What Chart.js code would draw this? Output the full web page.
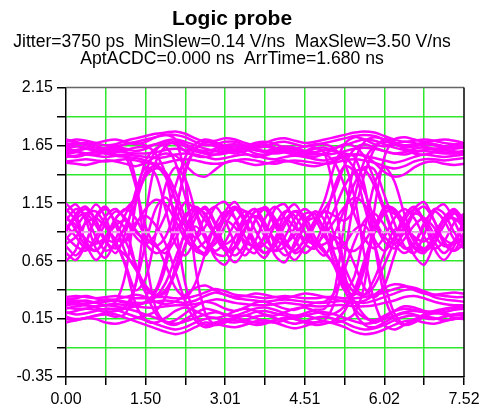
<!DOCTYPE html>
<html>
<head>
<meta charset="utf-8">
<script src="https://cdn.jsdelivr.net/npm/chart.js@4.4.1/dist/chart.umd.min.js"></script>
<style>
html,body{margin:0;padding:0;background:#fff;}
canvas{display:block;}
</style>
</head>
<body>
<canvas id="c" width="481" height="411"></canvas>
<script>
// ---- tick positions and labels ----
const xTickValues = [0, 0.752, 1.504, 2.256, 3.008, 3.760, 4.512, 5.264, 6.016, 6.768, 7.52];
const xTickLabels = ['0.00', '', '1.50', '', '3.01', '', '4.51', '', '6.02', '', '7.52'];
const yTickValues = [-0.35, -0.10, 0.15, 0.40, 0.65, 0.90, 1.15, 1.40, 1.65, 1.90, 2.15];
const yTickLabels = ['-0.35', '', '0.15', '', '0.65', '', '1.15', '', '1.65', '', '2.15'];
const thresholdLevel = 0.90;

// ---- sample times (ns) ----
const sampleTimes = [0.000,0.188,0.376,0.564,0.752,0.940,1.128,1.316,1.504,1.692,
  1.880,2.068,2.256,2.444,2.632,2.820,3.008,3.196,3.384,3.572,
  3.760,3.948,4.136,4.324,4.512,4.700,4.888,5.076,5.264,5.452,
  5.640,5.828,6.016,6.204,6.392,6.580,6.768,6.956,7.144,7.332,7.520];

// ---- traces staying high ----
const highTraces = [
  [1.68,1.70,1.69,1.67,1.65,1.66,1.69,1.71,1.73,1.75, 1.76,1.77,1.75,1.71,1.68,1.69,1.71,1.70,1.67,1.65, 1.67,1.70,1.71,1.69,1.67,1.68,1.70,1.72,1.74,1.76, 1.77,1.76,1.73,1.70,1.68,1.69,1.70,1.69,1.67,1.66, 1.67],
  [1.64,1.66,1.67,1.65,1.62,1.63,1.66,1.68,1.70,1.72, 1.74,1.74,1.72,1.68,1.65,1.66,1.68,1.68,1.65,1.63, 1.64,1.67,1.68,1.66,1.64,1.65,1.67,1.69,1.71,1.73, 1.74,1.73,1.70,1.67,1.65,1.66,1.67,1.66,1.64,1.63, 1.64],
  [1.60,1.61,1.62,1.60,1.58,1.59,1.61,1.63,1.64,1.66, 1.69,1.70,1.68,1.65,1.62,1.60,1.59,1.61,1.63,1.62, 1.60,1.61,1.63,1.62,1.60,1.59,1.61,1.63,1.65,1.68, 1.70,1.69,1.66,1.63,1.61,1.60,1.61,1.62,1.61,1.59, 1.60],
  [1.55,1.56,1.57,1.56,1.55,1.56,1.57,1.56,1.55,1.54, 1.55,1.57,1.58,1.57,1.55,1.53,1.54,1.56,1.57,1.56, 1.54,1.53,1.55,1.56,1.55,1.53,1.52,1.54,1.56,1.57, 1.56,1.54,1.52,1.50,1.52,1.55,1.57,1.56,1.55,1.56, 1.57],
  [1.51,1.52,1.53,1.52,1.51,1.52,1.53,1.52,1.50,1.49, 1.50,1.52,1.53,1.52,1.50,1.49,1.50,1.52,1.53,1.52, 1.50,1.49,1.51,1.52,1.51,1.50,1.49,1.50,1.52,1.53, 1.52,1.50,1.47,1.45,1.47,1.51,1.53,1.53,1.52,1.53, 1.54],
  [1.57,1.59,1.58,1.57,1.59,1.60,1.59,1.58,1.58,1.59, 1.61,1.62,1.61,1.60,1.58,1.57,1.58,1.60,1.62,1.61, 1.59,1.58,1.59,1.61,1.60,1.58,1.57,1.58,1.60,1.62, 1.63,1.62,1.60,1.58,1.57,1.59,1.60,1.59,1.58,1.58, 1.59],
  [1.50,1.49,1.48,1.50,1.52,1.51,1.49,1.47,1.50,1.55, 1.58,1.56,1.48,1.40,1.38,1.44,1.50,1.52,1.50,1.48, 1.49,1.51,1.52,1.50,1.48,1.47,1.49,1.52,1.55,1.57, 1.56,1.50,1.42,1.38,1.40,1.46,1.50,1.51,1.49,1.48, 1.49]
];

// ---- traces staying low ----
const lowTraces = [
  [0.17,0.15,0.16,0.18,0.20,0.19,0.16,0.13,0.10,0.07, 0.04,0.02,0.04,0.08,0.12,0.11,0.09,0.08,0.10,0.13, 0.14,0.12,0.09,0.07,0.09,0.12,0.13,0.11,0.08,0.04, 0.02,0.03,0.06,0.10,0.13,0.14,0.12,0.11,0.13,0.15, 0.16],
  [0.21,0.19,0.20,0.22,0.24,0.23,0.20,0.17,0.14,0.11, 0.08,0.06,0.08,0.12,0.15,0.16,0.13,0.12,0.14,0.17, 0.18,0.16,0.13,0.11,0.13,0.16,0.17,0.15,0.12,0.08, 0.06,0.07,0.10,0.14,0.17,0.18,0.17,0.15,0.17,0.19, 0.20],
  [0.25,0.24,0.24,0.26,0.27,0.26,0.24,0.22,0.19,0.16, 0.13,0.11,0.13,0.16,0.19,0.21,0.19,0.17,0.18,0.21, 0.22,0.20,0.18,0.16,0.18,0.20,0.21,0.19,0.16,0.13, 0.11,0.12,0.15,0.18,0.21,0.22,0.21,0.20,0.21,0.23, 0.24],
  [0.30,0.31,0.30,0.29,0.30,0.31,0.30,0.29,0.29,0.30, 0.31,0.30,0.29,0.31,0.35,0.38,0.36,0.33,0.32,0.31, 0.30,0.31,0.32,0.31,0.30,0.29,0.29,0.30,0.31,0.30, 0.29,0.31,0.34,0.37,0.40,0.41,0.38,0.34,0.32,0.31, 0.30],
  [0.34,0.35,0.34,0.33,0.34,0.35,0.34,0.33,0.33,0.34, 0.34,0.33,0.33,0.35,0.38,0.41,0.39,0.36,0.35,0.34, 0.33,0.34,0.35,0.34,0.33,0.33,0.34,0.34,0.33,0.33, 0.34,0.36,0.38,0.41,0.43,0.42,0.39,0.36,0.35,0.34, 0.34],
  [0.27,0.28,0.27,0.26,0.27,0.28,0.27,0.26,0.25,0.25, 0.26,0.27,0.27,0.28,0.30,0.32,0.31,0.29,0.28,0.27, 0.27,0.28,0.29,0.28,0.27,0.26,0.26,0.27,0.27,0.26, 0.26,0.27,0.29,0.31,0.34,0.35,0.33,0.30,0.28,0.27, 0.27],
  [0.32,0.33,0.35,0.33,0.31,0.32,0.34,0.36,0.34,0.30, 0.28,0.30,0.36,0.42,0.44,0.40,0.36,0.34,0.35,0.37, 0.36,0.34,0.33,0.35,0.37,0.36,0.34,0.32,0.30,0.29, 0.31,0.36,0.42,0.45,0.44,0.40,0.37,0.36,0.37,0.38, 0.37]
];

// ---- traces ringing around the middle level ----
const midTraces = [
  [1.15,1.05,0.80,0.66,0.78,1.02,1.10,1.20,1.38,1.45, 1.42,1.25,1.02,0.85,0.95,1.12,1.16,1.02,0.78,0.72, 0.88,1.10,1.14,0.98,0.80,0.76,0.92,1.10,1.30,1.42, 1.44,1.30,1.08,0.88,0.90,1.10,1.16,1.00,0.80,0.74, 0.90],
  [0.65,0.75,1.00,1.14,1.02,0.78,0.70,0.60,0.42,0.35, 0.38,0.55,0.78,0.95,0.85,0.68,0.62,0.78,1.02,1.10, 0.92,0.70,0.64,0.82,1.00,1.06,0.90,0.70,0.50,0.38, 0.36,0.50,0.72,0.92,0.90,0.70,0.62,0.80,1.02,1.08, 0.90],
  [1.02,0.96,0.84,0.80,0.86,0.96,1.00,0.92,0.80,0.72, 0.76,0.90,1.05,1.10,1.00,0.88,0.80,0.86,0.98,1.04, 0.96,0.84,0.80,0.88,0.98,1.02,0.94,0.84,0.76,0.74, 0.82,0.96,1.08,1.06,0.96,0.86,0.82,0.90,1.00,1.02, 0.94],
  [0.80,0.86,0.98,1.02,0.94,0.84,0.82,0.96,1.10,1.18, 1.14,1.00,0.84,0.76,0.82,0.94,1.00,0.94,0.82,0.78, 0.86,0.98,1.02,0.94,0.84,0.80,0.88,1.00,1.12,1.20, 1.14,0.98,0.82,0.76,0.84,0.96,1.02,0.94,0.84,0.80, 0.86],
  [1.08,1.14,1.00,0.76,0.68,0.84,1.06,1.20,1.40,1.48, 1.40,1.18,0.95,0.78,0.70,0.86,1.08,1.16,1.00,0.76, 0.68,0.84,1.06,1.14,1.00,0.78,0.70,0.88,1.10,1.32, 1.46,1.44,1.22,0.98,0.78,0.72,0.88,1.08,1.14,1.00, 0.80],
  [0.72,0.66,0.80,1.04,1.12,0.96,0.72,0.58,0.44,0.36, 0.40,0.56,0.80,1.02,1.12,0.98,0.74,0.64,0.76,1.00, 1.12,1.00,0.76,0.66,0.78,1.00,1.08,0.86,0.60,0.42, 0.36,0.44,0.62,0.82,1.00,1.10,0.98,0.76,0.66,0.78, 0.98],
  [0.90,1.06,1.12,1.00,0.82,0.72,0.90,1.25,1.46,1.40, 1.10,0.80,0.70,0.84,1.04,1.12,1.00,0.80,0.70,0.82, 1.02,1.12,1.02,0.84,0.72,0.80,1.00,1.30,1.47,1.42, 1.12,0.84,0.74,0.86,1.04,1.12,1.00,0.82,0.72,0.82, 1.00],
  [0.96,0.86,0.76,0.82,0.98,1.08,1.02,0.90,0.84,0.80, 0.62,0.42,0.34,0.46,0.72,0.96,1.08,1.02,0.86,0.76, 0.80,0.96,1.08,1.04,0.90,0.78,0.80,0.86,0.80,0.62, 0.42,0.34,0.44,0.70,0.94,1.06,1.02,0.88,0.78,0.82, 0.96],
  [0.84,0.94,1.06,1.08,0.96,0.82,0.62,0.40,0.50,0.88, 1.30,1.46,1.36,1.08,0.84,0.74,0.82,0.98,1.08,1.02, 0.86,0.74,0.78,0.94,1.06,1.06,0.90,0.62,0.40,0.52, 0.92,1.32,1.46,1.34,1.06,0.84,0.76,0.86,1.00,1.08, 1.02],
  [1.10,1.00,0.82,0.74,0.84,1.00,0.92,0.62,0.38,0.40, 0.66,0.98,1.16,1.08,0.88,0.72,0.70,0.86,1.04,1.10, 0.98,0.80,0.70,0.78,0.96,1.08,1.00,0.70,0.42,0.36, 0.58,0.90,1.12,1.10,0.92,0.76,0.72,0.86,1.02,1.10, 1.00]
];

// ---- traces switching between levels ----
const switchTraces = [
  [1.62,1.64,1.63,1.61,1.60,1.62,1.60,1.35,0.70,0.25, 0.12,0.10,0.15,0.20,0.24,0.22,0.19,0.18,0.21,0.24, 0.25,0.23,0.20,0.18,0.20,0.23,0.24,0.40,1.00,1.50, 1.68,1.72,1.70,1.66,1.63,1.64,1.66,1.65,1.63,1.62, 1.63],
  [0.20,0.22,0.24,0.23,0.21,0.22,0.24,0.26,0.30,0.38, 0.60,1.05,1.45,1.62,1.66,1.64,1.60,1.58,1.60,1.63, 1.64,1.62,1.59,1.57,1.59,1.62,1.63,1.60,1.58,1.55, 1.30,0.80,0.35,0.15,0.10,0.14,0.19,0.21,0.20,0.18, 0.19],
  [1.00,1.10,1.04,0.86,0.74,0.80,0.96,1.15,1.42,1.60, 1.68,1.66,1.60,1.56,1.55,1.57,1.60,1.61,1.58,1.55, 1.56,1.59,1.61,1.59,1.56,1.55,1.57,1.50,1.30,1.05, 0.85,0.76,0.86,1.02,1.10,1.02,0.86,0.76,0.82,0.98, 1.06],
  [0.78,0.70,0.82,1.02,1.10,0.98,0.82,0.62,0.38,0.20, 0.12,0.14,0.20,0.26,0.30,0.28,0.24,0.22,0.25,0.29, 0.30,0.27,0.24,0.23,0.26,0.29,0.30,0.38,0.58,0.82, 1.00,1.06,0.96,0.80,0.72,0.80,0.98,1.08,1.00,0.84, 0.76],
  [1.56,1.55,1.57,1.59,1.58,1.56,1.55,1.54,1.52,1.48, 1.38,1.18,0.95,0.78,0.72,0.84,1.02,1.10,0.98,0.80, 0.72,0.82,1.00,1.08,0.98,0.82,0.72,0.62,0.46,0.30, 0.18,0.12,0.16,0.22,0.26,0.25,0.22,0.21,0.23,0.25, 0.26],
  [0.30,0.29,0.28,0.30,0.32,0.31,0.29,0.28,0.29,0.34, 0.46,0.68,0.90,1.06,1.10,0.96,0.78,0.70,0.80,1.00, 1.10,1.02,0.84,0.72,0.78,0.96,1.08,1.04,1.00,1.10, 1.40,1.62,1.70,1.68,1.62,1.58,1.57,1.59,1.61,1.60, 1.58],
  [0.86,0.78,0.74,0.86,1.04,1.10,1.00,0.86,0.80,0.88, 1.05,1.30,1.55,1.66,1.70,1.68,1.64,1.62,1.64,1.67, 1.68,1.66,1.63,1.62,1.64,1.66,1.66,1.62,1.50,1.20, 0.70,0.30,0.10,0.06,0.10,0.15,0.17,0.16,0.14,0.15, 0.17],
  [0.15,0.14,0.16,0.18,0.19,0.17,0.20,0.45,1.05,1.50, 1.64,1.68,1.66,1.62,1.60,1.62,1.65,1.66,1.64,1.61, 1.60,1.62,1.64,1.63,1.60,1.59,1.61,1.60,1.55,1.45, 1.25,1.02,0.86,0.80,0.90,1.06,1.12,1.00,0.82,0.74, 0.80],
  [1.66,1.67,1.65,1.63,1.62,1.64,1.66,1.67,1.65,1.58, 1.40,0.95,0.45,0.18,0.10,0.12,0.15,0.14,0.12,0.10, 0.11,0.14,0.16,0.15,0.12,0.10,0.11,0.14,0.22,0.40, 0.66,0.90,1.06,1.10,0.98,0.82,0.74,0.80,0.96,1.06, 1.00],
  [0.94,1.02,1.06,0.96,0.82,0.76,0.84,0.98,1.04,0.96, 0.80,0.56,0.30,0.14,0.08,0.10,0.14,0.16,0.14,0.12, 0.12,0.14,0.16,0.15,0.13,0.12,0.14,0.30,0.70,1.20, 1.52,1.64,1.68,1.66,1.64,1.65,1.67,1.66,1.64,1.63, 1.64],
  [0.24,0.26,0.27,0.25,0.23,0.24,0.26,0.45,0.80,1.10, 1.20,1.08,0.88,0.74,0.72,0.86,1.04,1.12,1.00,0.82, 0.72,0.78,0.96,1.08,1.04,0.86,0.74,0.60,0.40,0.24, 0.16,0.14,0.18,0.22,0.24,0.23,0.21,0.22,0.24,0.25, 0.24],
  [1.58,1.60,1.62,1.61,1.58,1.57,1.55,1.30,0.95,0.78, 0.72,0.84,1.02,1.12,1.04,0.86,0.74,0.78,0.94,1.08, 1.10,0.96,0.80,0.74,0.84,1.00,1.10,1.25,1.48,1.62, 1.66,1.63,1.60,1.58,1.59,1.62,1.63,1.61,1.59,1.58, 1.60],
  [1.70,1.68,1.66,1.67,1.69,1.70,1.68,1.66,1.68,1.72, 1.74,1.70,1.35,0.60,0.20,0.10,0.12,0.16,0.18,0.16, 0.13,0.12,0.14,0.17,0.18,0.16,0.13,0.12,0.14,0.20, 0.45,1.10,1.55,1.70,1.72,1.70,1.68,1.69,1.70,1.69, 1.67],
  [0.28,0.30,0.31,0.29,0.27,0.30,0.55,1.15,1.52,1.62, 1.66,1.67,1.64,1.60,1.58,1.60,1.63,1.64,1.62,1.58, 1.57,1.60,1.62,1.61,1.58,1.57,1.58,1.62,1.66,1.64, 1.55,1.35,1.10,0.88,0.76,0.80,0.96,1.10,1.06,0.90, 0.78],
  [0.92,1.04,1.10,1.00,0.84,0.80,0.60,0.28,0.14,0.12, 0.16,0.22,0.25,0.22,0.18,0.16,0.18,0.22,0.24,0.22, 0.19,0.18,0.21,0.24,0.25,0.22,0.19,0.20,0.26,0.38, 0.62,0.92,1.10,1.08,0.92,0.78,0.74,0.86,1.02,1.08, 0.96],
  [1.04,0.92,0.78,0.74,0.86,1.02,1.10,1.02,0.86,0.78, 0.86,1.10,1.42,1.62,1.68,1.66,1.62,1.60,1.62,1.65, 1.66,1.63,1.60,1.58,1.60,1.63,1.58,1.20,0.55,0.22, 0.10,0.08,0.12,0.17,0.20,0.19,0.16,0.15,0.17,0.19, 0.20],
  [0.12,0.14,0.16,0.15,0.12,0.11,0.13,0.16,0.18,0.22, 0.34,0.60,0.92,1.10,1.06,0.88,0.74,0.76,0.92,1.08, 1.10,0.96,0.80,0.74,0.84,1.00,1.18,1.48,1.66,1.72, 1.70,1.66,1.64,1.66,1.68,1.67,1.64,1.62,1.63,1.65, 1.66],
  [1.62,1.60,1.58,1.60,1.63,1.64,1.62,1.60,1.62,1.66, 1.64,1.50,1.20,0.90,0.76,0.80,0.96,1.10,1.08,0.92, 0.78,0.74,0.86,1.02,1.10,1.02,0.86,0.76,0.80,0.92, 0.96,0.80,0.46,0.20,0.10,0.12,0.17,0.20,0.19,0.16, 0.15]
];

const TRACE_COLOR = '#ff00ff';
const GRID_COLOR = '#2ee82e';
const FONT = '"Liberation Sans", Arial, sans-serif';

const allTraces = [].concat(highTraces, lowTraces, midTraces, switchTraces);
const datasets = [{
  label: 'threshold',
  data: [{x: xTickValues[0], y: thresholdLevel}, {x: xTickValues[xTickValues.length - 1], y: thresholdLevel}],
  showLine: true, borderColor: '#f7a6f7', borderWidth: 2, borderDash: [9, 6],
  pointRadius: 0, tension: 0
}];
allTraces.forEach((tr, k) => {
  datasets.push({
    label: 'trace ' + (k + 1),
    data: sampleTimes.map((t, i) => ({x: t, y: tr[i]})),
    showLine: true, borderColor: TRACE_COLOR, borderWidth: 2.5,
    pointRadius: 0, tension: 0.3
  });
});

const frameBorders = {
  id: 'frameBorders',
  afterDatasetsDraw(chart) {
    const {ctx, chartArea: a} = chart;
    ctx.save();
    ctx.lineWidth = 1.5;
    ctx.strokeStyle = '#666';
    ctx.beginPath(); ctx.moveTo(a.left, a.top); ctx.lineTo(a.right, a.top); ctx.stroke();
    ctx.strokeStyle = '#000';
    ctx.beginPath(); ctx.moveTo(a.right, a.top); ctx.lineTo(a.right, a.bottom); ctx.stroke();
    ctx.restore();
  }
};

function gridColor(ctx) {
  const n = ctx.scale.ticks.length;
  return (ctx.index === 0 || ctx.index === n - 1) ? 'rgba(0,0,0,0)' : GRID_COLOR;
}

new Chart(document.getElementById('c'), {
  type: 'scatter',
  data: {datasets},
  plugins: [frameBorders],
  options: {
    responsive: false,
    animation: false,
    devicePixelRatio: 1,
    layout: {padding: {top: 0, left: 0, right: 17, bottom: 0}},
    plugins: {
      legend: {display: false},
      tooltip: {enabled: false},
      title: {
        display: true, text: 'Logic probe', color: '#000',
        font: {family: FONT, size: 21, weight: 'bold', lineHeight: 1.2},
        padding: {top: 7, bottom: 0}
      },
      subtitle: {
        display: true,
        text: ['Jitter=3750 ps  MinSlew=0.14 V/ns  MaxSlew=3.50 V/ns', 'AptACDC=0.000 ns  ArrTime=1.680 ns'],
        color: '#000',
        font: {family: FONT, size: 17.6, weight: 'normal', lineHeight: 1.0},
        padding: {top: 1, bottom: 19}
      }
    },
    scales: {
      x: {
        type: 'linear', min: xTickValues[0], max: xTickValues[xTickValues.length - 1],
        afterBuildTicks(scale) { scale.ticks = xTickValues.map(v => ({value: v})); },
        afterFit(scale) { scale.height = 34; scale.paddingLeft = 0; scale.paddingRight = 0; },
        ticks: {
          autoSkip: false, maxRotation: 0, color: '#000', padding: 5,
          font: {family: FONT, size: 16},
          callback: (v, i) => xTickLabels[i]
        },
        grid: {color: gridColor, lineWidth: 1.5, tickColor: '#000', tickLength: 8, drawTicks: true},
        border: {display: true, color: '#000', width: 1.5}
      },
      y: {
        type: 'linear', min: yTickValues[0], max: yTickValues[yTickValues.length - 1],
        afterBuildTicks(scale) { scale.ticks = yTickValues.map(v => ({value: v})); },
        afterFit(scale) { scale.width = 66; },
        ticks: {
          autoSkip: false, color: '#000', padding: 4,
          font: {family: FONT, size: 16},
          callback: (v, i) => yTickLabels[i]
        },
        grid: {color: gridColor, lineWidth: 1.5, tickColor: '#000', tickLength: 9, drawTicks: true},
        border: {display: true, color: '#000', width: 1.5}
      }
    }
  }
});
</script>
</body>
</html>
